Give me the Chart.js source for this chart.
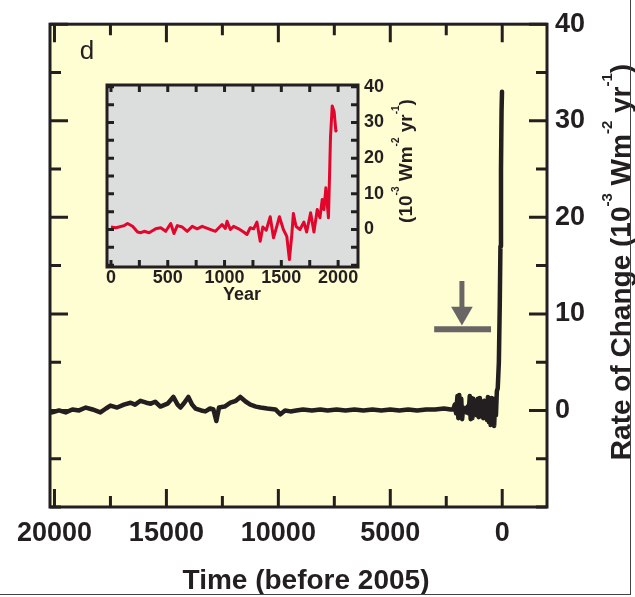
<!DOCTYPE html>
<html>
<head>
<meta charset="utf-8">
<script src="https://cdn.jsdelivr.net/npm/chart.js@4/dist/chart.umd.min.js"></script>
<style>
  body { margin: 0; background: #fff; }
  #wrap { position: relative; width: 635px; height: 597px; }
  #wrap canvas { position: absolute; left: 0; top: 0; }
  #edge { position: absolute; left: 0; top: 0; width: 630px; height: 594px;
          border-right: 1.5px solid #444; border-bottom: 1.5px solid #444; pointer-events: none; }
</style>
</head>
<body>
<div id="wrap">
  <canvas id="chartMain" width="635" height="597"></canvas>
  <canvas id="chartInset" width="635" height="597"></canvas>
  <div id="edge"></div>
</div>
<script>
// Main panel: rate of change, years before 2005
const mainTime = [20100, 19800, 19500, 19200, 18900, 18600, 18300, 17950, 17700, 17500,
  17200, 16900, 16600, 16400, 16160, 15900, 15700, 15500, 15270, 14950,
  14690, 14500, 14375, 14200, 14020, 13850, 13700, 13450, 13260, 13050,
  12900, 12770, 12650, 12400, 12140, 11900, 11700, 11450, 11250, 11000,
  10800, 10500, 10130, 9910, 9700, 9460, 9200, 8900, 8500, 8125,
  7800, 7400, 7000, 6600, 6200, 5800, 5400, 5000, 4600, 4200,
  3800, 3400, 3000, 2600, 2300, 2190, 2120, 2060, 2000, 1960,
  1920, 1870, 1830, 1790, 1750, 1700, 1650, 1600, 1550, 1500,
  1450, 1410, 1370, 1330, 1290, 1240, 1190, 1140, 1090, 1050,
  1000, 950, 900, 850, 800, 760, 720, 680, 640, 600,
  560, 520, 480, 440, 400, 360, 320, 280, 240, 200,
  150, 110, 80, 55, 30, 10];
const mainRate = [-0.2, 0.0, -0.2, 0.1, 0.0, 0.3, 0.1, -0.2, 0.2, 0.5,
  0.3, 0.6, 0.8, 0.6, 1.0, 0.8, 0.7, 0.9, 0.4, 0.7,
  1.4, 0.6, 0.3, 0.8, 1.4, 0.6, 0.2, 0.0, -0.1, 0.2,
  0.1, -1.1, 0.3, 0.4, 0.8, 1.0, 1.4, 0.9, 0.6, 0.4,
  0.3, 0.2, 0.1, -0.4, 0.0, -0.1, 0.0, 0.1, 0.0, 0.1,
  0.0, 0.1, 0.0, 0.1, 0.0, 0.1, 0.0, 0.1, 0.0, 0.1,
  0.0, 0.1, 0.1, 0.2, 0.1, 0.1, 0.6, -0.3, 1.5, -0.8,
  1.6, -0.6, 1.2, -0.9, 0.3, 0.1, 0.2, -0.2, 0.4, -0.3,
  1.5, -0.9, 1.3, -0.8, 1.2, -0.4, 0.3, -0.5, 1.2, -0.7,
  1.3, -0.6, 0.9, -0.8, 1.0, -0.7, 0.6, -1.0, 1.4, -1.2,
  1.0, -1.5, 1.3, -1.4, 1.2, -1.6, 0.9, -0.5, 2.0, 2.3,
  5, 11, 17, 25, 31, 33];
const timeTicks = [0, 2500, 5000, 7500, 10000, 12500, 15000, 17500, 20000];
const timeLabels = [0, 5000, 10000, 15000, 20000];
const rateTicks = [-10, -5, 0, 5, 10, 15, 20, 25, 30, 35, 40];
const rateLabels = [0, 10, 20, 30, 40];

// Marker under the arrow: span covered by the inset
const barTime = [3040, 500];
const barRate = [8.4, 8.4];
const arrowTime = [1800, 1800];
const arrowRate = [13.4, 10.1];

// Inset: last two millennia, calendar years
const insetYear = [0, 44, 117, 146, 190, 234, 263, 292, 336, 394,
  438, 482, 526, 555, 584, 628, 672, 716, 759, 803,
  861, 920, 978, 1007, 1022, 1051, 1080, 1124, 1168, 1197,
  1226, 1256, 1285, 1314, 1337, 1367, 1402, 1431, 1460, 1483,
  1518, 1548, 1571, 1591, 1606, 1629, 1664, 1699, 1723, 1758,
  1787, 1816, 1840, 1860, 1875, 1892, 1915, 1933, 1948, 1965,
  1980, 1986];
const insetRate = [0.7, 0.5, 1.1, 1.7, 0.9, -0.7, -0.9, -0.5, -0.9, 0.2,
  0.5, -0.5, 1.7, -1.1, 1.1, 0.7, -0.5, 0.9, 0.2, 0.9,
  0.2, -0.5, 1.4, 0.3, 2.3, 0.0, 0.9, 0.2, -0.7, -1.4,
  0.5, 0.2, 2.1, -3.3, 0.7, -0.2, 3.6, -2.3, 0.9, 3.6,
  0.0, -1.9, -8.4, -1.9, 4.5, 0.9, 0.0, 2.1, -0.7, 4.7,
  -0.7, 5.6, 3.3, 8.4, 5.6, 11.7, 3.3, 26, 34.6, 33,
  27.6, 28];
const yearTicks = [0, 250, 500, 750, 1000, 1250, 1500, 1750, 2000];
const yearLabels = [0, 500, 1000, 1500, 2000];

const ink = '#231f20';
const face = '"Liberation Sans", Arial, Helvetica, sans-serif';

const pts = (xs, ys) => xs.map((x, i) => ({ x: x, y: ys[i] }));
const setTicks = list => s => { s.ticks = list.map(v => ({ value: v })); };
const labelOnly = list => v => (list.includes(v) ? String(v) : '');

// text with raised parts: parts = [[text, isSuperscript], ...]
function drawRich(ctx, spec) {
  const size = spec.size, weight = spec.weight || 'bold';
  const fontOf = sup => weight + ' ' + (sup ? Math.round(size * 0.55) : size) + 'px ' + face;
  ctx.save();
  ctx.translate(spec.x, spec.y);
  ctx.rotate(spec.rot || 0);
  ctx.fillStyle = ink;
  ctx.textBaseline = 'alphabetic';
  let w = 0;
  spec.parts.forEach(p => { ctx.font = fontOf(p[1]); w += ctx.measureText(p[0]).width; });
  let cx = -w / 2;
  spec.parts.forEach(p => {
    ctx.font = fontOf(p[1]);
    ctx.fillText(p[0], cx, p[1] ? -size * 0.66 : 0);
    cx += ctx.measureText(p[0]).width;
  });
  ctx.restore();
}

// panel fill, frame, inward ticks and free text
const framePlugin = {
  id: 'frame',
  beforeDraw(chart, args, o) {
    const { ctx, chartArea: a } = chart;
    ctx.save();
    ctx.fillStyle = o.fill;
    ctx.fillRect(a.left, a.top, a.width, a.height);
    ctx.restore();
  },
  afterDraw(chart, args, o) {
    const { ctx, chartArea: a, scales } = chart;
    const x = scales.x, y = scales.y;
    ctx.save();
    ctx.strokeStyle = ink;
    ctx.lineWidth = o.tickWidth;
    ctx.beginPath();
    x.ticks.forEach(t => {
      const p = x.getPixelForValue(t.value);
      const len = t.label !== '' ? o.major : o.minor;
      ctx.moveTo(p, a.top); ctx.lineTo(p, a.top + len);
      ctx.moveTo(p, a.bottom); ctx.lineTo(p, a.bottom - len);
    });
    y.ticks.forEach(t => {
      const p = y.getPixelForValue(t.value);
      const len = t.label !== '' ? o.major : o.minor;
      ctx.moveTo(a.left, p); ctx.lineTo(a.left + len, p);
      ctx.moveTo(a.right, p); ctx.lineTo(a.right - len, p);
    });
    ctx.stroke();
    ctx.lineWidth = o.border;
    ctx.strokeRect(a.left, a.top, a.width, a.height);
    ctx.restore();
    (o.texts || []).forEach(s => drawRich(ctx, s));
  }
};

new Chart(document.getElementById('chartMain'), {
  type: 'line',
  data: {
    datasets: [
      { data: pts(mainTime, mainRate), borderColor: ink, borderWidth: 4.5,
        borderJoinStyle: 'round', borderCapStyle: 'round', pointRadius: 0 },
      { data: pts(barTime, barRate), borderColor: '#6a6565', borderWidth: 6, pointRadius: 0 },
      { data: pts(arrowTime, arrowRate), borderColor: '#6a6565', borderWidth: 5,
        pointStyle: 'triangle', rotation: 180, pointRadius: [0, 12.5],
        pointBackgroundColor: '#6a6565', pointBorderWidth: 0 }
    ]
  },
  options: {
    responsive: false,
    animation: false,
    devicePixelRatio: 1,
    layout: { padding: { left: 50, top: 12, right: 0, bottom: 0 } },
    plugins: {
      legend: { display: false },
      tooltip: { enabled: false },
      frame: {
        fill: '#fffdd2', border: 3, tickWidth: 3, major: 18, minor: 11,
        texts: [
          { parts: [['d', 0]], x: 87, y: 59, size: 26, weight: 'normal' },
          { parts: [['Time (before 2005)', 0]], x: 306, y: 589, size: 28 },
          { parts: [['Rate of Change (10', 0], ['-3', 1], [' Wm', 0], ['-2', 1], [' yr', 0], ['-1', 1], [')', 0]],
            x: 630, y: 262, size: 28, rot: -Math.PI / 2 }
        ]
      }
    },
    scales: {
      x: {
        type: 'linear', reverse: true, min: -2000, max: 20200,
        grid: { display: false, drawTicks: false }, border: { display: false },
        afterBuildTicks: setTicks(timeTicks),
        ticks: { autoSkip: false, maxRotation: 0, padding: 10, color: ink,
                 font: { family: face, size: 27, weight: 'bold' },
                 callback: labelOnly(timeLabels) },
        afterFit: s => { s.height = 90; }
      },
      y: {
        position: 'right', min: -10, max: 40,
        grid: { display: false, drawTicks: false }, border: { display: false },
        afterBuildTicks: setTicks(rateTicks),
        ticks: { autoSkip: false, padding: 8, color: ink,
                 font: { family: face, size: 27, weight: 'bold' }, callback: labelOnly(rateLabels) },
        afterFit: s => { s.width = 88; }
      }
    }
  },
  plugins: [framePlugin]
});

new Chart(document.getElementById('chartInset'), {
  type: 'line',
  data: {
    datasets: [
      { data: pts(insetYear, insetRate), borderColor: '#e2062c', borderWidth: 3,
        borderJoinStyle: 'round', pointRadius: 0 }
    ]
  },
  options: {
    responsive: false,
    animation: false,
    devicePixelRatio: 1,
    layout: { padding: { left: 107, top: 85, right: 0, bottom: 0 } },
    plugins: {
      legend: { display: false },
      tooltip: { enabled: false },
      frame: {
        fill: '#dcdddd', border: 3, tickWidth: 3, major: 7, minor: 7,
        texts: [
          { parts: [['Year', 0]], x: 242, y: 300, size: 18 },
          { parts: [['(10', 0], ['-3', 1], [' Wm', 0], ['-2', 1], [' yr', 0], ['-1', 1], [')', 0]],
            x: 412, y: 161, size: 19, rot: -Math.PI / 2 }
        ]
      }
    },
    scales: {
      x: {
        type: 'linear', min: -35, max: 2175,
        grid: { display: false, drawTicks: false }, border: { display: false },
        afterBuildTicks: setTicks(yearTicks),
        ticks: { autoSkip: false, maxRotation: 0, padding: 0, color: ink,
                 font: { family: face, size: 18, weight: 'bold' },
                 callback: labelOnly(yearLabels) },
        afterFit: s => { s.height = 330; }
      },
      y: {
        position: 'right', min: -10.5, max: 40.5,
        grid: { display: false, drawTicks: false }, border: { display: false },
        afterBuildTicks: setTicks(rateTicks),
        ticks: { autoSkip: false, padding: 6, color: ink,
                 font: { family: face, size: 18, weight: 'bold' }, callback: labelOnly(rateLabels) },
        afterFit: s => { s.width = 277; }
      }
    }
  },
  plugins: [framePlugin]
});
</script>
</body>
</html>
